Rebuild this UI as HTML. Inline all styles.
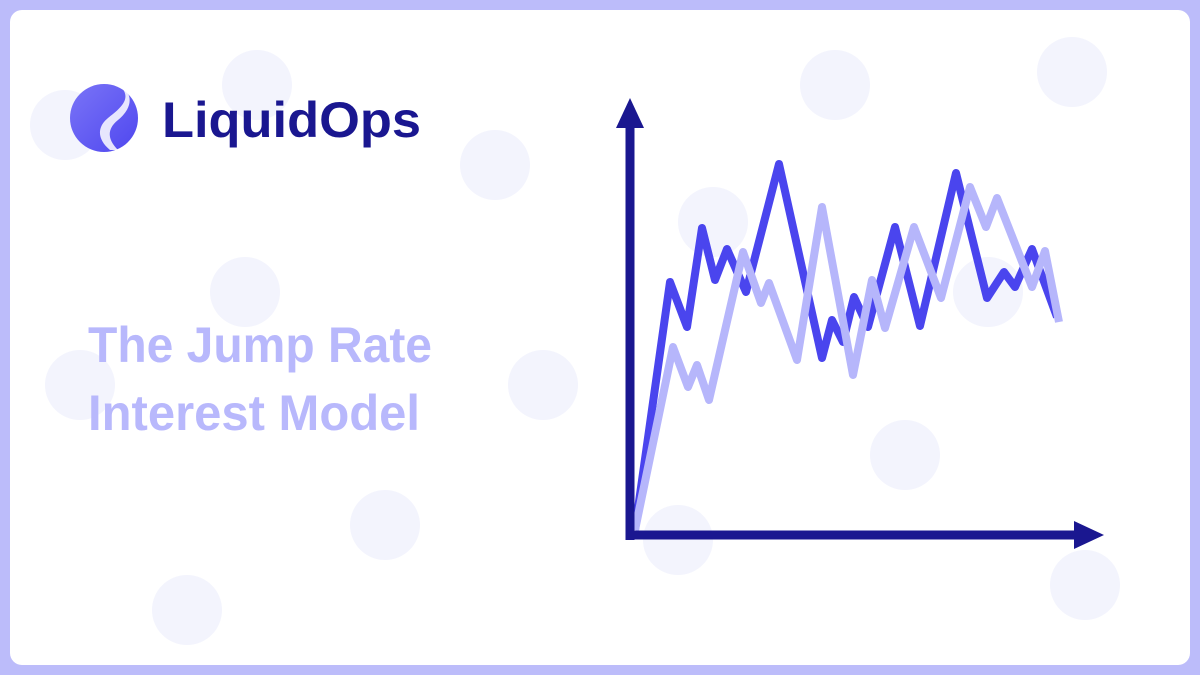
<!DOCTYPE html>
<html><head><meta charset="utf-8"><style>
html,body{margin:0;padding:0;width:1200px;height:675px;overflow:hidden;background:#bcbcfa;}
svg{display:block;font-family:"Liberation Sans",sans-serif;}
</style></head><body>
<svg width="1200" height="675" viewBox="0 0 1200 675">
<defs>
<linearGradient id="lg" x1="0" y1="0" x2="1" y2="1"><stop offset="0" stop-color="#7a74f7"/><stop offset="1" stop-color="#4f47ef"/></linearGradient>
</defs>
<rect x="0" y="0" width="1200" height="675" fill="#bcbcfa"/>
<rect x="10" y="10" width="1180" height="655" rx="12" fill="#ffffff"/>
<g id="dots" fill="#f3f4fd"></g>
<g>
<circle cx="104" cy="118" r="34" fill="url(#lg)"/>
<path d="M122,88 C132,100 118,110 108,118 C96,128 98,140 110,150 L118,150 C106,138 108,128 118,120 C130,110 134,98 124,88 Z" fill="#ffffff" opacity="0.85"/>
<text x="162" y="137" font-size="50" font-weight="bold" fill="#1a1790" textLength="259" lengthAdjust="spacingAndGlyphs">LiquidOps</text>
</g>
<text x="88" y="362" font-size="50" font-weight="bold" fill="#b8b8fc" textLength="344" lengthAdjust="spacingAndGlyphs">The Jump Rate</text>
<text x="88" y="430" font-size="50" font-weight="bold" fill="#b8b8fc" textLength="332" lengthAdjust="spacingAndGlyphs">Interest Model</text>
<g id="chart">
<line x1="630" y1="120" x2="630" y2="540" stroke="#1a1790" stroke-width="9"/>
<polygon points="630,98 616,128 644,128" fill="#1a1790"/>
<line x1="626" y1="535" x2="1080" y2="535" stroke="#1a1790" stroke-width="9"/>
<polygon points="1104,535 1074,521 1074,549" fill="#1a1790"/>
</g>
</svg>
<script>
const darkX = [0,35,52,67,80,92,111,144,187,197,208,219,233,260,285,321,352,369,380,397,422];
const darkY = [0,248,203,302,250,281,238,366,172,210,188,233,203,303,204,357,232,258,243,281,213];
const lightX = [0,38,53,62,74,108,126,134,162,187,218,237,250,279,306,335,351,362,397,410,424];
const lightY = [0,183,143,165,130,278,227,247,170,323,155,250,202,303,232,343,303,332,243,279,208];
const dots = [[65,125],[257,85],[495,165],[245,292],[80,385],[543,385],[385,525],[187,610],[835,85],[1072,72],[713,222],[988,292],[905,455],[678,540],[1085,585]];
function sx(v){return 635+v;}
function sy(v){return 530-v;}
const NS='http://www.w3.org/2000/svg';
const dg=document.getElementById('dots');
dots.forEach(d=>{const c=document.createElementNS(NS,'circle');c.setAttribute('cx',d[0]);c.setAttribute('cy',d[1]);c.setAttribute('r',35);


dg.appendChild(c);});
const chart=document.getElementById('chart');
function line(xs,ys,color,name){const p=document.createElementNS(NS,'polyline');
p.setAttribute('points',xs.map((x,i)=>sx(x)+','+sy(ys[i])).join(' '));
p.setAttribute('fill','none');p.setAttribute('stroke',color);p.setAttribute('stroke-width','8');p.setAttribute('stroke-linejoin','round');


chart.insertBefore(p,chart.firstChild);}
line(lightX,lightY,'#b6b6fb','series-light');
line(darkX,darkY,'#4a45ee','series-dark');
</script>
</body></html>
